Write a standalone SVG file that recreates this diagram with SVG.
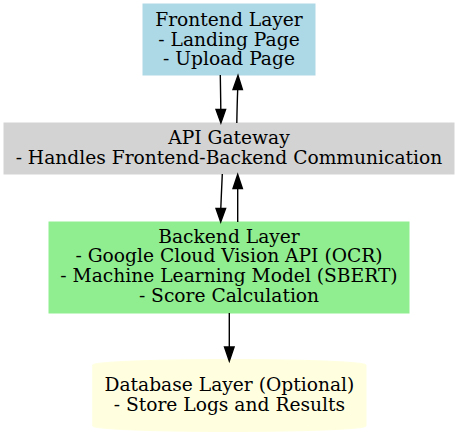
<svg xmlns="http://www.w3.org/2000/svg" width="459" height="436" viewBox="0 0 459 436">
<style>
text{font-family:"DejaVu Serif","Liberation Serif",serif;font-size:18.67px;fill:#000;text-anchor:middle}
.edge{fill:none;stroke:#000;stroke-width:1.4}
.head{fill:#000;stroke:#000;stroke-width:1.4}
</style>
<rect width="459" height="436" fill="#fff"/>
<g id="frontend">
<rect x="143" y="4" width="172" height="71" fill="#add8e6" stroke="#add8e6"/>
<text x="229" y="26.3">Frontend Layer</text>
<text x="229" y="45.8">- Landing Page</text>
<text x="229" y="65.3">- Upload Page</text>
</g>
<g id="api">
<rect x="4" y="123" width="450" height="51" fill="#d3d3d3" stroke="#d3d3d3"/>
<text x="229" y="144.3">API Gateway</text>
<text x="229" y="163.6">- Handles Frontend-Backend Communication</text>
</g>
<g id="backend">
<rect x="49" y="222" width="360" height="91" fill="#90ee90" stroke="#90ee90"/>
<text x="229" y="242.7">Backend Layer</text>
<text x="229" y="262.3">- Google Cloud Vision API (OCR)</text>
<text x="229" y="281.9">- Machine Learning Model (SBERT)</text>
<text x="229" y="301.5">- Score Calculation</text>
</g>
<g id="database">
<path d="M92.7,365 A136.65,5.5 0 0 1 366,365 V426 A136.65,5.5 0 0 1 92.7,426 Z" fill="#ffffe0" stroke="#ffffe0"/>
<text x="229.4" y="390.7">Database Layer (Optional)</text>
<text x="229.4" y="410.5">- Store Logs and Results</text>
</g>
<g id="connectors">
<path class="edge" d="M220.3,75 C220.5,88 220.7,98 220.8,109.5"/>
<polygon class="head" points="216,109.5 225.6,109.5 220.9,123"/>
<path class="edge" d="M236.8,123 C237,112 237.3,100 237.7,89.5"/>
<polygon class="head" points="233,89.5 242.4,89.5 238,75.5"/>
<path class="edge" d="M222.3,174 C221.8,186 221.2,197 220.8,208.5"/>
<polygon class="head" points="216,208.5 225.6,208.5 220.7,222"/>
<path class="edge" d="M237.7,222 C237.7,210 237.7,199 237.7,188.5"/>
<polygon class="head" points="233,188.5 242.4,188.5 237.7,174.5"/>
<path class="edge" d="M229.3,313 L229.3,347"/>
<polygon class="head" points="224.5,347 234.1,347 229.3,361"/>
</g>
</svg>
